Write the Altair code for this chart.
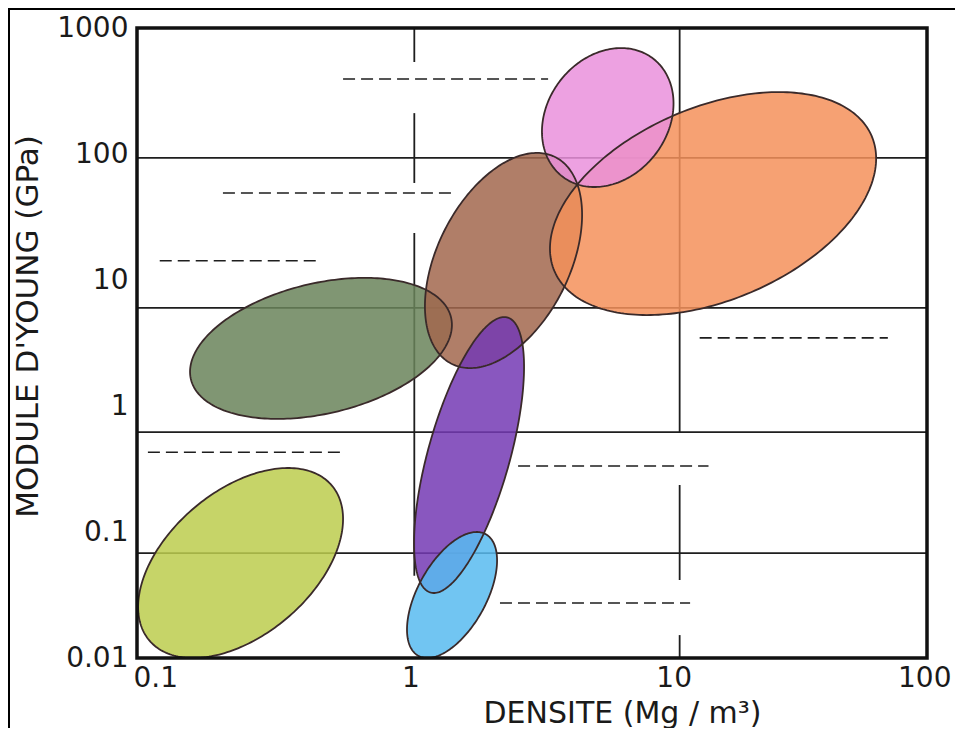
import numpy as np
import pandas as pd
import altair as alt

# ---- material-family envelopes ----
ell_names = ["E1", "E2", "E3", "E4", "E5", "E6", "E7"]
ell_colors = ["#bccd4e", "#6a845a", "#a2674d", "#f4905a", "#ea90dc", "#7439b4", "#58bbf0"]
ell_left = [0.101, 0.159, 1.24, 3.70, 3.45, 1.127, 1.06]      # density at leftmost point
ell_right = [0.606, 1.57, 4.90, 64.1, 10.9, 2.95, 2.33]       # density at rightmost point
ell_bottom = [0.01, 0.79, 2.0, 5.27, 54.7, 0.0328, 0.01]      # modulus at lowest point
ell_top = [0.322, 10.4, 102, 310, 693, 5.08, 0.1]             # modulus at highest point
ell_top_x = [0.3746, 0.731, 3.30, 27.4, 6.89, 2.48, 1.95]     # density at highest point

# ---- grid lines as drawn in the picture ----
grid_h = [93, 6.0, 0.62, 0.068]
grid_v_x = [1.13, 1.13, 1.13, 11.5, 11.5, 11.5]
grid_v_top = [1000, 211, 23.6, 1000, 0.236, 0.0152]
grid_v_bottom = [537, 58.9, 0.045, 0.61, 0.0416, 0.01]

# ---- blank dashed label placeholders ----
dash_x1 = [0.606, 0.212, 0.122, 0.110, 2.80, 2.39, 13.7]
dash_x2 = [3.64, 1.57, 0.487, 0.617, 14.8, 12.6, 71]
dash_y = [394, 49, 14.2, 0.43, 0.334, 0.0273, 3.47]

x_ticks = [0.1, 1, 10, 100]
y_ticks = [0.01, 0.1, 1, 10, 100, 1000]

FONT = "DejaVu Sans"
xs = alt.Scale(type="log", domain=[0.1, 100], nice=False)
ys = alt.Scale(type="log", domain=[0.01, 1000], nice=False)

# build ellipse geometry from the read parameters
area_rows, line_rows = [], []
t = np.linspace(0, np.pi, 121)
s = np.linspace(0, 2 * np.pi, 241)
for k, name in enumerate(ell_names):
    lx0, lx1 = np.log10(ell_left[k]), np.log10(ell_right[k])
    ly0, ly1 = np.log10(ell_bottom[k]), np.log10(ell_top[k])
    cx, cy = (lx0 + lx1) / 2, (ly0 + ly1) / 2
    W, H = (lx1 - lx0) / 2, (ly1 - ly0) / 2
    phi = np.arcsin(np.clip((np.log10(ell_top_x[k]) - cx) / W, -1, 1))
    X = cx + W * np.cos(t)
    Yu = cy + H * np.sin(t + phi)
    Yl = cy - H * np.sin(t - phi)
    for a, b, c in zip(X, Yu, Yl):
        area_rows.append({"name": name, "x": 10 ** a, "y": 10 ** b, "y2": 10 ** c})
    for i, ss in enumerate(s):
        line_rows.append({"name": name, "i": i,
                          "x": 10 ** (cx + W * np.cos(ss)),
                          "y": 10 ** (cy + H * np.sin(ss + phi))})
area_df = pd.DataFrame(area_rows)
line_df = pd.DataFrame(line_rows)

vgrid = pd.DataFrame({"x": grid_v_x, "y": grid_v_top, "y2": grid_v_bottom})
hgrid = pd.DataFrame({"y": grid_h})
dashes = pd.DataFrame({"x": dash_x1, "x2": dash_x2, "y": dash_y})

X_TITLE = "DENSITE  (Mg / m³)"
Y_TITLE = "MODULE D'YOUNG  (GPa)"

x_axis = alt.Axis(values=x_ticks, format=".2~f", grid=False, ticks=False, domain=False,
                  labelFont=FONT, labelFontSize=28, labelColor="#1a1a1a", labelPadding=6,
                  labelOffset=10, labelFlush=True, labelFlushOffset=14,
                  titleFont=FONT, titleFontSize=30,
                  titleFontWeight="normal", titleColor="#1a1a1a",
                  titleX=485, titleY=64, titleBaseline="alphabetic", titleAlign="center")
y_axis = alt.Axis(values=y_ticks, format=".2~f", grid=False, ticks=False, domain=False,
                  labelFont=FONT, labelFontSize=28, labelColor="#1a1a1a", labelPadding=9,
                  labelFlush=False,
                  titleFont=FONT, titleFontSize=31,
                  titleFontWeight="normal", titleColor="#1a1a1a",
                  titleX=-109, titleY=298, titleAngle=270, titleBaseline="middle",
                  titleAlign="center")


def xenc(field="x"):
    return alt.X(f"{field}:Q", scale=xs, axis=x_axis, title=X_TITLE)


def yenc(field="y"):
    return alt.Y(f"{field}:Q", scale=ys, axis=y_axis, title=Y_TITLE)


base_v = alt.Chart(vgrid).mark_rule(color="#1e1e1e", strokeWidth=1.8).encode(
    x=xenc(), y=yenc(), y2="y2:Q",
)
h_lines = alt.Chart(hgrid).mark_rule(color="#1e1e1e", strokeWidth=1.8).encode(
    y=yenc()
)
dash_lines = alt.Chart(dashes).mark_rule(color="#1e1e1e", strokeWidth=1.6, strokeDash=[12, 6]).encode(
    x=xenc(), x2="x2:Q", y=yenc(),
)

fills = []
for name, col in zip(ell_names, ell_colors):
    fills.append(
        alt.Chart(area_df[area_df["name"] == name]).mark_area(color=col, opacity=0.85).encode(
            x=xenc(), y=yenc(), y2="y2:Q",
        )
    )

outlines = alt.Chart(line_df).mark_line(color="#3a2a2a", strokeWidth=1.8).encode(
    x=xenc(), y=yenc(), detail="name:N", order="i:Q",
)

one = pd.DataFrame({"a": [0]})
frame = alt.Chart(one).mark_rect(filled=False, stroke="#111111", strokeWidth=3.5).encode(
    x=alt.value(0), x2=alt.value("width"), y=alt.value(0), y2=alt.value("height")
)
outer_top = alt.Chart(one).mark_rule(color="#000000", strokeWidth=2).encode(
    x=alt.value(-129), x2=alt.value(818), y=alt.value(-19)
)
outer_left = alt.Chart(one).mark_rule(color="#000000", strokeWidth=2).encode(
    x=alt.value(-128), y=alt.value(-20), y2=alt.value(700)
)

chart = alt.layer(base_v, h_lines, dash_lines, *fills, outlines, frame, outer_top, outer_left).properties(
    width=790, height=630,
    autosize=alt.AutoSizeParams(type="none"),
    padding={"left": 129, "top": 20, "right": 28, "bottom": 70},
    background="white",
).configure_view(stroke=None)

chart.save("out.html", embed_options={"renderer": "svg", "actions": False})
